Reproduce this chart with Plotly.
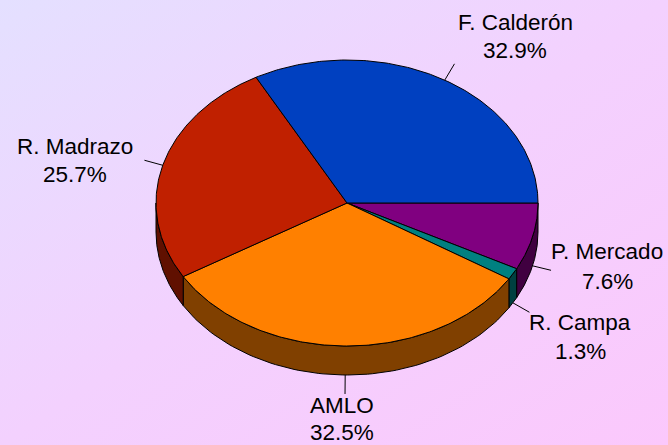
import numpy as np
import plotly.graph_objects as go

candidates = ["P. Mercado", "R. Campa", "AMLO", "R. Madrazo", "F. Calderón"]
shares = [7.6, 1.3, 32.5, 25.7, 32.9]
top_colors = ["#800080", "#008080", "#FF8000", "#C02000", "#0040C0"]
side_colors = ["#400040", "#004040", "#804000", "#601000", "#002060"]
# label centre: x, y of name line, y of value line
label_pos = {"P. Mercado": (607, 251, 281), "R. Campa": (580, 322, 351), "AMLO": (342, 405, 432),
             "R. Madrazo": (75, 146, 174), "F. Calderón": (515, 22, 50)}

W, H = 668, 445
CX, CY, RX, RY, DEPTH, LEAD = 347, 203, 191, 143, 29, 19
FONT = dict(family="Liberation Sans, Arial, sans-serif", size=22.5, color="#000000")
bg = ("data:image/svg+xml;utf8,<svg xmlns='http://www.w3.org/2000/svg' width='668' height='445'>"
      "<defs><linearGradient id='g' x1='0' y1='0' x2='1' y2='1'>"
      "<stop offset='0' stop-color='%23E4E0FF'/><stop offset='0.5' stop-color='%23F3D1FE'/>"
      "<stop offset='1' stop-color='%23FBC8FC'/></linearGradient></defs>"
      "<rect width='668' height='445' fill='url(%23g)'/></svg>")


def ex(t):
    return CX + RX * np.cos(np.radians(t))


def ey(t, dz=0):
    return CY + RY * np.sin(np.radians(t)) + dz


fig = go.Figure()
total = sum(shares)
edges = np.concatenate([[0], np.cumsum(shares) / total * 360])

# side walls (only the front half of the disc is visible)
for i, c in enumerate(candidates):
    a, b = edges[i], min(edges[i + 1], 180)
    if a >= 180:
        continue
    t = np.linspace(a, b, 80)
    xs = np.concatenate([ex(t), ex(t[::-1]), [ex(t[0])]])
    ys = np.concatenate([ey(t), ey(t[::-1], DEPTH), [ey(t[0])]])
    fig.add_trace(go.Scatter(x=xs, y=ys, mode="lines", fill="toself", fillcolor=side_colors[i],
                             line=dict(color="#000000", width=1), hoverinfo="skip", showlegend=False))

# top faces and leader lines
for i, c in enumerate(candidates):
    t = np.linspace(edges[i], edges[i + 1], 160)
    xs = np.concatenate([[CX], ex(t), [CX]])
    ys = np.concatenate([[CY], ey(t), [CY]])
    fig.add_trace(go.Scatter(x=xs, y=ys, mode="lines", fill="toself", fillcolor=top_colors[i],
                             line=dict(color="#000000", width=1), name=c, hoverinfo="name", showlegend=False))
    mid = (edges[i] + edges[i + 1]) / 2
    dz = DEPTH if mid < 180 else 0
    x0, y0 = ex(mid), ey(mid, dz)
    x1 = x0 + LEAD * np.cos(np.radians(mid))
    y1 = y0 + LEAD * np.sin(np.radians(mid))
    fig.add_trace(go.Scatter(x=[x0, x1], y=[y0, y1], mode="lines",
                             line=dict(color="#000000", width=1), hoverinfo="skip", showlegend=False))

for c, s in zip(candidates, shares):
    lx, y_name, y_val = label_pos[c]
    for txt, ly in ((c, y_name), (f"{s}%", y_val)):
        fig.add_annotation(x=lx, y=ly, text=txt, showarrow=False, font=FONT, align="center",
                           xanchor="center", yanchor="middle")

fig.update_layout(
    width=W, height=H, autosize=False, margin=dict(l=0, r=0, t=0, b=0),
    paper_bgcolor="#F1D6FF", plot_bgcolor="rgba(0,0,0,0)",
    xaxis=dict(range=[0, W], visible=False, fixedrange=True),
    yaxis=dict(range=[H, 0], visible=False, fixedrange=True),
    images=[dict(source=bg, xref="paper", yref="paper", x=0, y=1, sizex=1, sizey=1,
                 sizing="stretch", layer="below", xanchor="left", yanchor="top")],
)
fig.write_html("out.html", config={"displayModeBar": False},
               post_script="document.body.style.margin='0';document.documentElement.style.overflow='hidden';")
